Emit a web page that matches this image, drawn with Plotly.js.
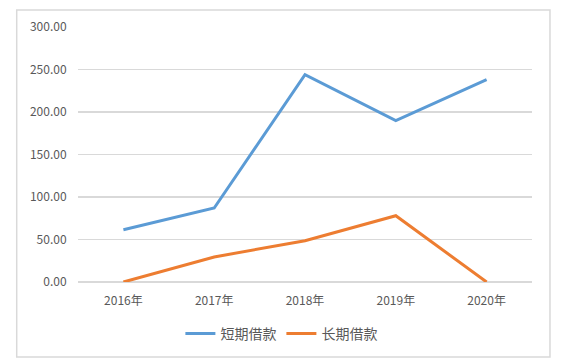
<!DOCTYPE html>
<html><head><meta charset="utf-8">
<script src="https://cdn.plot.ly/plotly-3.0.1.min.js"></script>
<style>html,body{margin:0;padding:0;background:#fff;}#c{width:571px;height:363px;}</style>
</head><body><div id="c"></div>
<script>
const categories = ["2016年","2017年","2018年","2019年","2020年"];
const shortTermLoans = [61.5, 87, 244, 190, 238];
const longTermLoans = [0, 29.5, 48.5, 78, 0];
const seriesNames = ["短期借款","长期借款"];
const yTicks = [0, 50, 100, 150, 200, 250, 300];

const font = {family: '"Noto Sans CJK SC", "Noto Sans", sans-serif', color: '#595959', size: 12};
const traces = [
  {x: categories, y: shortTermLoans, name: seriesNames[0], type: 'scatter', mode: 'lines',
   line: {color: '#5B9BD5', width: 3}},
  {x: categories, y: longTermLoans, name: seriesNames[1], type: 'scatter', mode: 'lines',
   line: {color: '#ED7D31', width: 3}}
];
const layout = {
  width: 571, height: 363,
  margin: {l: 78, r: 39, t: 27, b: 81},
  paper_bgcolor: '#fff', plot_bgcolor: '#fff',
  font: font,
  showlegend: true,
  hovermode: false,
  xaxis: {type: 'category', range: [-0.5, categories.length - 0.5], showgrid: false, zeroline: false, showline: false,
          ticks: 'outside', ticklen: 8, tickcolor: 'rgba(0,0,0,0)', tickfont: font, fixedrange: true},
  yaxis: {range: [0, 300], tickvals: yTicks, tickformat: '.2f', showgrid: true, gridcolor: '#D9D9D9', gridwidth: 1.5,
          zeroline: true, zerolinecolor: '#D9D9D9', zerolinewidth: 1.5, showline: false,
          ticks: 'outside', ticklen: 8, tickcolor: 'rgba(0,0,0,0)', tickfont: font, fixedrange: true},
  legend: {orientation: 'h', x: 0.448, xanchor: 'center', y: -0.204, yanchor: 'middle',
           font: {family: font.family, color: '#595959', size: 14}, itemwidth: 30, tracegroupgap: 0},
  shapes: [{type: 'rect', xref: 'paper', yref: 'paper', x0: -0.135, x1: 1.0396, y0: -0.294, y1: 1.0667,
            line: {color: '#D9D9D9', width: 1.5}, fillcolor: 'rgba(0,0,0,0)', layer: 'below'}]
};
Plotly.newPlot('c', traces, layout, {displayModeBar: false, staticPlot: true});
</script></body></html>
